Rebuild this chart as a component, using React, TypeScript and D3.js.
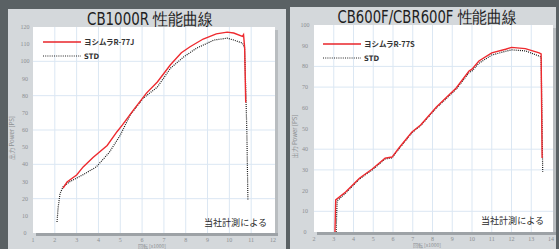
import React from "react";
import * as d3 from "d3";

const leftTitle = "CB1000R  性能曲線";
const rightTitle = "CB600F/CBR600F  性能曲線";
const leftLegend = ["ヨシムラR-77J", "STD"];
const rightLegend = ["ヨシムラR-77S", "STD"];
const note = "当社計測による";
const yAxisLabel = "出力 Power [PS]";
const xAxisLabel = "回転 [x1000]";

const leftXTicks = [1, 2, 3, 4, 5, 6, 7, 8, 9, 10, 11, 12];
const leftYTicks = [0, 10, 20, 30, 40, 50, 60, 70, 80, 90, 100, 110, 120];
const rightXTicks = [2, 3, 4, 5, 6, 7, 8, 9, 10, 11, 12, 13, 14];
const rightYTicks = [0, 10, 20, 30, 40, 50, 60, 70, 80, 90, 100];

const leftYoshimura: [number, number][] = [
  [2.38, 26.2], [2.56, 29.7], [3.0, 33.8], [3.3, 38.5], [3.75, 44], [4.4, 51],
  [4.85, 59], [5.1, 63], [5.6, 71.6], [6.2, 81.5], [6.7, 88], [7.3, 98],
  [7.8, 105], [8.2, 108.5], [8.8, 113], [9.4, 116], [9.9, 117], [10.2, 116.5],
  [10.6, 114.5], [10.65, 115.5], [10.7, 108], [10.75, 76],
];
const leftStd: [number, number][] = [
  [2.1, 6.4], [2.15, 14.6], [2.24, 23], [2.38, 27], [2.7, 30], [3.3, 34],
  [3.9, 38.5], [4.5, 47], [5.0, 57], [5.45, 68.7], [6.05, 78.5], [6.7, 85],
  [7.3, 96], [7.9, 102.5], [8.5, 107.7], [9.3, 112.4], [9.9, 113.5],
  [10.2, 112.4], [10.6, 110.6], [10.7, 107.7], [10.8, 60], [10.85, 19],
];
const rightYoshimura: [number, number][] = [
  [3.06, 0], [3.1, 15.5], [3.6, 19.3], [4.3, 26], [4.95, 30.4], [5.6, 35.7],
  [5.95, 36.2], [6.3, 40.6], [6.96, 48.3], [7.4, 51.7], [8.2, 60.4],
  [9.2, 69.6], [9.85, 77.8], [10.0, 78.7], [10.35, 82.6], [11.0, 86.5],
  [11.7, 88.3], [12.0, 89.2], [12.7, 88.6], [13.4, 86.5], [13.5, 86], [13.55, 35.7],
];
const rightStd: [number, number][] = [
  [3.12, 0], [3.17, 15], [3.6, 18.8], [4.3, 25.6], [4.95, 30], [5.6, 35.3],
  [5.95, 35.8], [6.3, 40.2], [6.96, 48], [7.4, 51.4], [8.2, 60], [9.2, 69],
  [9.85, 77], [10.0, 77.8], [10.35, 81.5], [11.0, 85.5], [11.7, 87.3],
  [12.0, 88], [12.7, 87.5], [13.4, 85], [13.5, 84.5], [13.58, 29],
];

type PanelProps = {
  px: number; py: number; pw: number; ph: number;
  x0: number; x1: number; y0: number; y1: number;
  xTicks: number[]; yTicks: number[];
  yGrid: number[];
  red: [number, number][]; std: [number, number][];
  title: string; titleX: number; titleY: number; titleW: number;
  legend: string[]; legX: number; legY: number;
  noteX: number; noteY: number;
  yLabelX: number; yTickX: number; xLabelX: number;
};

function Panel(p: PanelProps) {
  const x = d3.scaleLinear().domain([p.xTicks[0], p.xTicks[p.xTicks.length - 1]]).range([p.x0, p.x1]);
  const y = d3.scaleLinear().domain([p.yTicks[0], p.yTicks[p.yTicks.length - 1]]).range([p.y0, p.y1]);
  const line = d3.line<[number, number]>().x((d) => x(d[0])).y((d) => y(d[1]));
  const plotL = p.x0;
  const plotR = p.x1 + 2;
  return (
    <g>
      <rect x={p.px} y={p.py} width={p.pw} height={p.ph} fill="#d4d8db" />
      <text x={p.titleX} y={p.titleY} textAnchor="middle" fontFamily="DejaVu Sans Condensed, DejaVu Sans" fontSize={17}
        fill="#1e1e1e" textLength={p.titleW} lengthAdjust="spacingAndGlyphs">{p.title}</text>
      <rect x={plotL + 3} y={p.y1 + 3} width={plotR - plotL} height={p.y0 - p.y1} fill="#b9bdc0" />
      <rect x={plotL} y={p.y1} width={plotR - plotL} height={p.y0 - p.y1} fill="#ffffff" />
      <rect x={plotL + 3} y={p.y0} width={plotR - plotL} height={3} fill="#9da2a6" />
      {p.xTicks.slice(1, -1).map((t) => (
        <line key={"gx" + t} x1={x(t)} x2={x(t)} y1={p.y1} y2={p.y0} stroke="#dbe7f3" strokeWidth={1} />
      ))}
      {p.yGrid.map((t) => (
        <line key={"gy" + t} x1={plotL} x2={plotR} y1={y(t)} y2={y(t)} stroke="#dbe7f3" strokeWidth={1} />
      ))}
      {p.yTicks.map((t) => (
        <text key={"ty" + t} x={p.yTickX} y={y(t) + 2} textAnchor="middle" fontSize={6}
          fontFamily="Liberation Serif" fill="#8c8f92">{t}</text>
      ))}
      {p.xTicks.map((t) => (
        <text key={"tx" + t} x={x(t)} y={p.y0 + 8.5} textAnchor="middle" fontSize={6}
          fontFamily="Liberation Serif" fill="#8c8f92">{t}</text>
      ))}
      <text x={p.xLabelX} y={p.y0 + 15} textAnchor="middle" fontSize={5} fill="#8c8f92"
        fontFamily="Noto Sans CJK JP">{xAxisLabel}</text>
      <text transform={`translate(${p.yLabelX},${(p.y0 + p.y1) / 2 + 8}) rotate(-90)`} textAnchor="middle"
        fontSize={6} fill="#8c8f92" fontFamily="Noto Sans CJK JP">{yAxisLabel}</text>
      <line x1={p.legX} x2={p.legX + 38} y1={p.legY} y2={p.legY} stroke="#e8242a" strokeWidth={1.3} />
      <text x={p.legX + 41} y={p.legY + 3} fontSize={7.5} fontWeight="bold" fill="#333"
        fontFamily="Noto Sans CJK JP">{p.legend[0]}</text>
      <line x1={p.legX} x2={p.legX + 38} y1={p.legY + 14} y2={p.legY + 14} stroke="#222"
        strokeWidth={1} strokeDasharray="1,1.2" />
      <text x={p.legX + 41} y={p.legY + 17} fontSize={7.5} fontWeight="bold" fill="#333"
        fontFamily="DejaVu Sans Condensed">{p.legend[1]}</text>
      <path d={line(p.std) || ""} fill="none" stroke="#1a1a1a" strokeWidth={1.2} strokeDasharray="1,1.1" />
      <path d={line(p.red) || ""} fill="none" stroke="#ee2a2f" strokeWidth={1.4} />
      <text x={p.noteX} y={p.noteY} fontSize={9.5} fill="#2a2a2a" fontFamily="Noto Sans CJK JP"
        textLength={63} lengthAdjust="spacingAndGlyphs">{note}</text>
    </g>
  );
}

export default function App() {
  return (
    <svg width={559} height={249} style={{ position: "absolute", left: 0, top: 0 }}>
      <rect x={0} y={0} width={559} height={249} fill="#5a6164" />
      <Panel px={8} py={9} pw={278} ph={240} x0={33} x1={273} y0={233} y1={27}
        xTicks={leftXTicks} yTicks={leftYTicks} yGrid={[20, 40, 60, 80, 100]}
        red={leftYoshimura} std={leftStd}
        title={leftTitle} titleX={150} titleY={25} titleW={126}
        legend={leftLegend} legX={43} legY={42} noteX={204} noteY={226}
        yLabelX={14} yTickX={25} xLabelX={152} />
      <Panel px={290} py={7} pw={266} ph={242} x0={314} x1={551} y0={232} y1={25}
        xTicks={rightXTicks} yTicks={rightYTicks} yGrid={[10, 30, 40, 70, 80]}
        red={rightYoshimura} std={rightStd}
        title={rightTitle} titleX={427} titleY={23} titleW={179}
        legend={rightLegend} legX={323} legY={44} noteX={481} noteY={224}
        yLabelX={297} yTickX={305} xLabelX={427} />
    </svg>
  );
}
